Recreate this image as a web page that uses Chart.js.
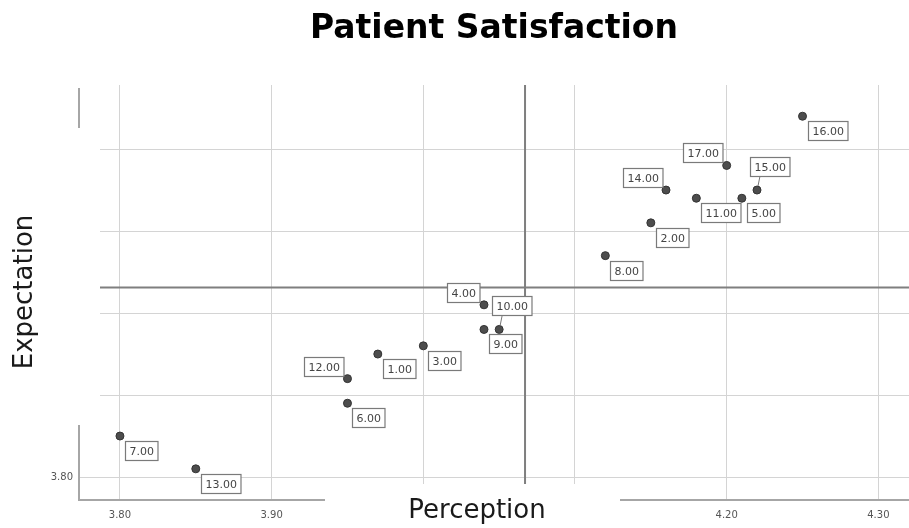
<!DOCTYPE html>
<html>
<head>
<meta charset="utf-8">
<title>Patient Satisfaction</title>
<script src="https://cdn.jsdelivr.net/npm/chart.js@4.4.1/dist/chart.umd.min.js"></script>
<style>
  html, body { margin: 0; padding: 0; background: #fff; }
  #wrap { width: 909px; height: 528px; position: relative; }
</style>
</head>
<body>
<div id="wrap"><canvas id="satisfactionChart"></canvas></div>
<script>
// case numbers and the two scores
var caseIds = [1, 2, 3, 4, 5, 6, 7, 8, 9, 10, 11, 12, 13, 14, 15, 16, 17];
var perception = [3.97, 4.15, 4.00, 4.04, 4.21, 3.95, 3.80, 4.12, 4.04, 4.05, 4.18, 3.95, 3.85, 4.16, 4.22, 4.25, 4.20];
var expectation = [3.95, 4.11, 3.96, 4.01, 4.14, 3.89, 3.85, 4.07, 3.98, 3.98, 4.14, 3.92, 3.81, 4.15, 4.15, 4.24, 4.18];

// tick labels that are not hidden behind the axis titles
var xTickLabels = ["3.80", "3.90", "4.20", "4.30"];
var yTickLabels = ["3.80"];

// where a case label sits when it is not down-right of its point
var labelPlacement = { 4: "upLeft", 12: "upLeft", 14: "upLeft", 17: "upLeft", 10: "above", 15: "above" };

function mean(arr) {
  var s = 0;
  for (var i = 0; i < arr.length; i++) s += arr[i];
  return s / arr.length;
}
var meanPerception = mean(perception);
var meanExpectation = mean(expectation);

var points = caseIds.map(function (id, i) {
  return { x: perception[i], y: expectation[i], id: id };
});

var quadrantPlugin = {
  id: "quadrant",
  beforeDatasetsDraw: function (chart) {
    var ctx = chart.ctx;
    var a = chart.chartArea;
    var mx = chart.scales.x.getPixelForValue(meanPerception);
    var my = chart.scales.y.getPixelForValue(meanExpectation);
    ctx.save();
    // mean reference lines
    ctx.strokeStyle = "#7f7f7f";
    ctx.lineWidth = 2;
    ctx.beginPath();
    ctx.moveTo(mx, a.top);
    ctx.lineTo(mx, a.bottom);
    ctx.moveTo(a.left, my);
    ctx.lineTo(a.right, my);
    ctx.stroke();
    // axis lines
    ctx.strokeStyle = "#a6a6a6";
    ctx.lineWidth = 2;
    ctx.beginPath();
    ctx.moveTo(a.left, a.top + 3);
    ctx.lineTo(a.left, a.bottom);
    ctx.lineTo(a.right, a.bottom);
    ctx.stroke();
    // axis titles sit on white boxes
    ctx.fillStyle = "#fff";
    ctx.fillRect(325, 484, 295, 44);
    ctx.fillRect(0, 128, 100, 297);
    ctx.fillStyle = "#1a1a1a";
    ctx.font = "26px 'DejaVu Sans'";
    ctx.textAlign = "center";
    ctx.textBaseline = "alphabetic";
    ctx.fillText("Perception", 477, 518);
    ctx.translate(32, 292);
    ctx.rotate(-Math.PI / 2);
    ctx.fillText("Expectation", 0, 0);
    ctx.restore();
  },
  afterDatasetsDraw: function (chart) {
    var ctx = chart.ctx;
    var meta = chart.getDatasetMeta(0);
    ctx.save();
    ctx.font = "11px 'DejaVu Sans'";
    ctx.textBaseline = "middle";
    ctx.textAlign = "left";
    meta.data.forEach(function (el, i) {
      var id = caseIds[i];
      var text = id.toFixed(2);
      var w = ctx.measureText(text).width + 8;
      var h = 19;
      var px = el.x, py = el.y;
      var bx, by;
      var place = labelPlacement[id];
      if (place === "upLeft") {
        bx = px - 4 - w;
        by = py - 3 - h;
      } else if (place === "above") {
        bx = px - 7;
        by = py - 14 - h;
        ctx.strokeStyle = "#777";
        ctx.lineWidth = 1;
        ctx.beginPath();
        ctx.moveTo(px + 1, py - 4);
        ctx.lineTo(px + 3, py - 14);
        ctx.stroke();
      } else {
        bx = px + 5;
        by = py + 5;
      }
      bx = Math.round(bx) + 0.5;
      by = Math.round(by) + 0.5;
      ctx.fillStyle = "#fff";
      ctx.fillRect(bx, by, w, h);
      ctx.strokeStyle = "#7a7a7a";
      ctx.lineWidth = 1.2;
      ctx.strokeRect(bx, by, w, h);
      ctx.fillStyle = "#444";
      ctx.fillText(text, bx + 4, by + h / 2 + 1);
    });
    ctx.restore();
  }
};

var ctx = document.getElementById("satisfactionChart").getContext("2d");
var myScatter = new Chart(ctx, {
  type: "scatter",
  data: {
    datasets: [
      {
        label: "Cases",
        data: points,
        pointRadius: 4,
        pointHoverRadius: 4,
        backgroundColor: "#4d4d4d",
        borderColor: "#333",
        borderWidth: 1,
      },
    ],
  },
  options: {
    responsive: true,
    maintainAspectRatio: false,
    animation: false,
    layout: { padding: 0, autoPadding: false },
    plugins: {
      legend: { display: false },
      tooltip: { enabled: false },
      title: {
        display: true,
        text: "Patient Satisfaction",
        fullSize: false,
        color: "#000",
        font: { family: "'DejaVu Sans'", size: 33, weight: "bold" },
        padding: { top: 10, bottom: 35.4 },
      },
    },
    scales: {
      x: {
        type: "linear",
        min: 3.773,
        max: 4.3202,
        border: { display: false },
        grid: { color: "#d4d4d4", lineWidth: 1, drawTicks: false },
        ticks: {
          stepSize: 0.1,
          includeBounds: false,
          padding: 9,
          color: "#555",
          font: { family: "'DejaVu Sans'", size: 10 },
          maxRotation: 0,
          autoSkip: false,
          callback: function (v) {
            var s = Number(v).toFixed(2);
            return xTickLabels.indexOf(s) >= 0 ? s : "";
          },
        },
        afterFit: function (scale) {
          scale.height = 28;
        },
      },
      y: {
        type: "linear",
        min: 3.772,
        max: 4.2781,
        border: { display: false },
        grid: { color: "#d4d4d4", lineWidth: 1, drawTicks: false },
        ticks: {
          stepSize: 0.1,
          includeBounds: false,
          padding: 6,
          color: "#555",
          font: { family: "'DejaVu Sans'", size: 10 },
          autoSkip: false,
          callback: function (v) {
            var s = Number(v).toFixed(2);
            return yTickLabels.indexOf(s) >= 0 ? s : "";
          },
        },
        afterFit: function (scale) {
          scale.width = 79;
        },
      },
    },
  },
  plugins: [quadrantPlugin],
});
</script>
</body>
</html>
